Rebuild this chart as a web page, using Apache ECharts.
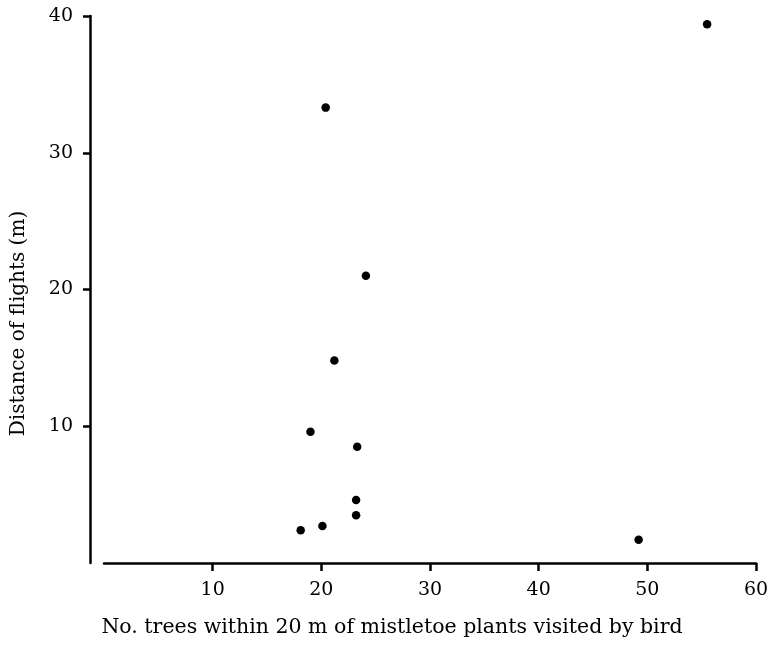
<!DOCTYPE html>
<html>
<head>
<meta charset="utf-8">
<script src="https://cdn.jsdelivr.net/npm/echarts@6/dist/echarts.min.js"></script>
<style>
  html, body { margin: 0; padding: 0; background: #fff; }
  #chart { width: 772px; height: 649px; }
</style>
</head>
<body>
<div id="chart"></div>
<script>
// number of trees within 20 m vs. distance of flights (m)
const treeCounts = [20.4, 55.5, 24.1, 21.2, 19.0, 23.3, 23.2, 23.2, 20.1, 18.1, 49.2];
const flightDistances = [33.3, 39.4, 21.0, 14.8, 9.6, 8.5, 4.6, 3.5, 2.7, 2.4, 1.7];
const xTicks = [10, 20, 30, 40, 50, 60];
const yTicks = [10, 20, 30, 40];

const ink = '#000';
const font = 'DejaVu Serif';

const points = treeCounts.map((x, i) => [x, flightDistances[i]]);

const chart = echarts.init(document.getElementById('chart'));
chart.setOption({
    backgroundColor: '#fff',
    animation: false,
    grid: { left: 104, right: 16, top: 16, bottom: 86, outerBoundsMode: 'none' },
    xAxis: {
        type: 'value',
        min: 0,
        max: 60,
        interval: 10,
        name: 'No. trees within 20 m of mistletoe plants visited by bird',
        nameLocation: 'middle',
        nameGap: 54,
        nameTextStyle: { color: ink, fontFamily: font, fontSize: 20.5, padding: [0, 76, 0, 0] },
        splitLine: { show: false },
        axisLine: { lineStyle: { color: ink, width: 2.5 } },
        axisTick: { customValues: xTicks, length: 8, lineStyle: { color: ink, width: 2.5 } },
        axisLabel: { customValues: xTicks, margin: 18, color: ink, fontFamily: font, fontSize: 19 }
    },
    yAxis: {
        type: 'value',
        min: 0,
        max: 40,
        interval: 10,
        offset: 14,
        name: 'Distance of flights (m)',
        nameLocation: 'middle',
        nameGap: 61,
        nameTextStyle: { color: ink, fontFamily: font, fontSize: 20, padding: [0, 68, 0, 0] },
        splitLine: { show: false },
        axisLine: { onZero: false, lineStyle: { color: ink, width: 2.5 } },
        axisTick: { customValues: yTicks, length: 7, lineStyle: { color: ink, width: 2.5 } },
        axisLabel: { customValues: yTicks, margin: 17, color: ink, fontFamily: font, fontSize: 19 }
    },
    series: [{
        type: 'scatter',
        data: points,
        symbol: 'circle',
        symbolSize: 8.5,
        itemStyle: { color: ink, opacity: 1 }
    }]
});
</script>
</body>
</html>
